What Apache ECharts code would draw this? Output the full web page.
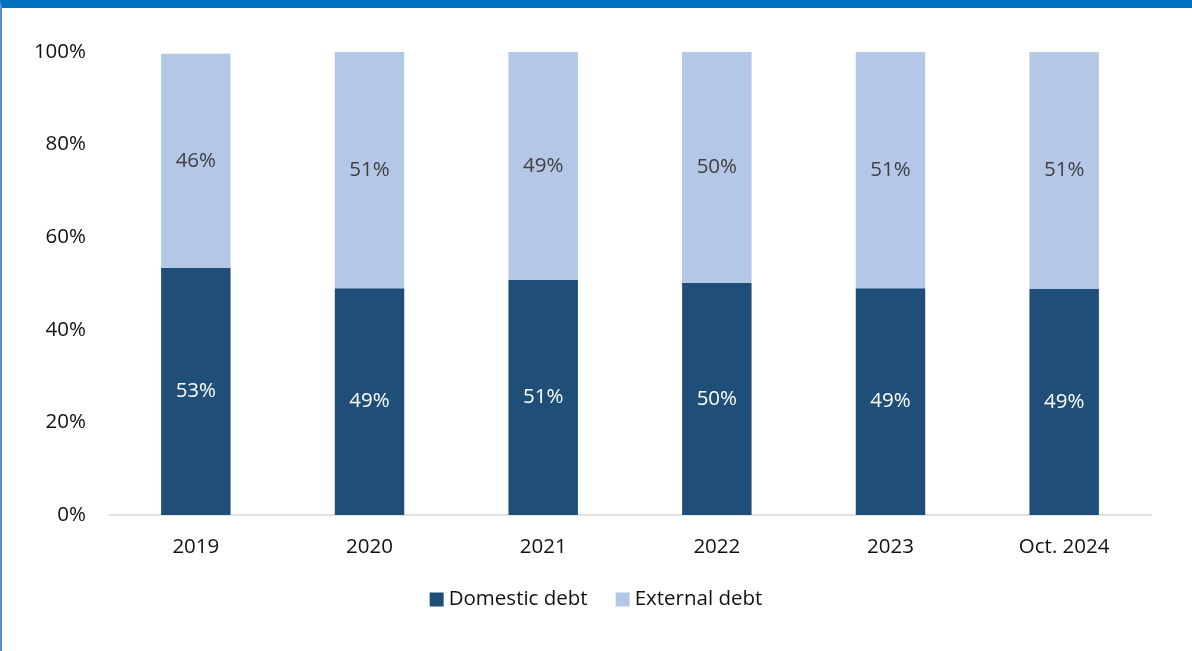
<!DOCTYPE html>
<html>
<head>
<meta charset="utf-8">
<script src="https://cdn.jsdelivr.net/npm/echarts@6/dist/echarts.min.js"></script>
<style>
  html, body { margin: 0; padding: 0; background: #fff; }
  #frame { position: relative; width: 1192px; height: 651px; box-sizing: border-box;
           border-top: 8px solid #0070C0; border-left: 2px solid #5B8ED8; }
  #chart { position: absolute; left: -2px; top: -8px; width: 1192px; height: 651px; }
</style>
</head>
<body>
<div id="frame"><div id="chart"></div></div>
<script>
// Debt composition shares (%)
const categories = ['2019', '2020', '2021', '2022', '2023', 'Oct. 2024'];
const domesticDebt = [53.4, 49.0, 50.8, 50.1, 49.0, 48.8];
const externalDebt = [46.2, 51.0, 49.2, 49.9, 51.0, 51.2];
const yTicks = [0, 20, 40, 60, 80, 100];

const FONT = '"Open Sans", "Liberation Sans", sans-serif';
const FS = 20.5;

const chart = echarts.init(document.getElementById('chart'));
const pctLabel = (color) => ({
  show: true,
  position: 'inside',
  color: color,
  fontFamily: FONT,
  fontSize: FS,
  formatter: p => Math.round(p.value) + '%'
});

chart.setOption({
  animation: false,
  textStyle: { fontFamily: FONT },
  grid: { left: 109, right: 41, top: 52, bottom: 136 },
  legend: {
    bottom: 36,
    left: 'center',
    itemWidth: 14,
    itemHeight: 14,
    itemGap: 28,
    icon: 'rect',
    textStyle: { fontFamily: FONT, fontSize: FS, color: '#111' },
    data: ['Domestic debt', 'External debt']
  },
  xAxis: {
    type: 'category',
    data: categories,
    axisLine: { lineStyle: { color: '#d9d9d9', width: 1.5 } },
    axisTick: { show: false },
    axisLabel: { fontFamily: FONT, fontSize: FS, color: '#111', margin: 22 }
  },
  yAxis: {
    type: 'value',
    min: yTicks[0],
    max: yTicks[yTicks.length - 1],
    interval: 20,
    splitLine: { show: false },
    axisLine: { show: false },
    axisTick: { show: false },
    axisLabel: { fontFamily: FONT, fontSize: FS, color: '#111', margin: 23,
                 formatter: v => v + '%' }
  },
  series: [
    {
      name: 'Domestic debt',
      type: 'bar',
      stack: 'debt',
      data: domesticDebt,
      barCategoryGap: '60%',
      itemStyle: { color: '#1F4E79' },
      label: pctLabel('#ffffff')
    },
    {
      name: 'External debt',
      type: 'bar',
      stack: 'debt',
      data: externalDebt,
      itemStyle: { color: '#B4C7E7' },
      label: pctLabel('#404040')
    }
  ]
});
</script>
</body>
</html>
